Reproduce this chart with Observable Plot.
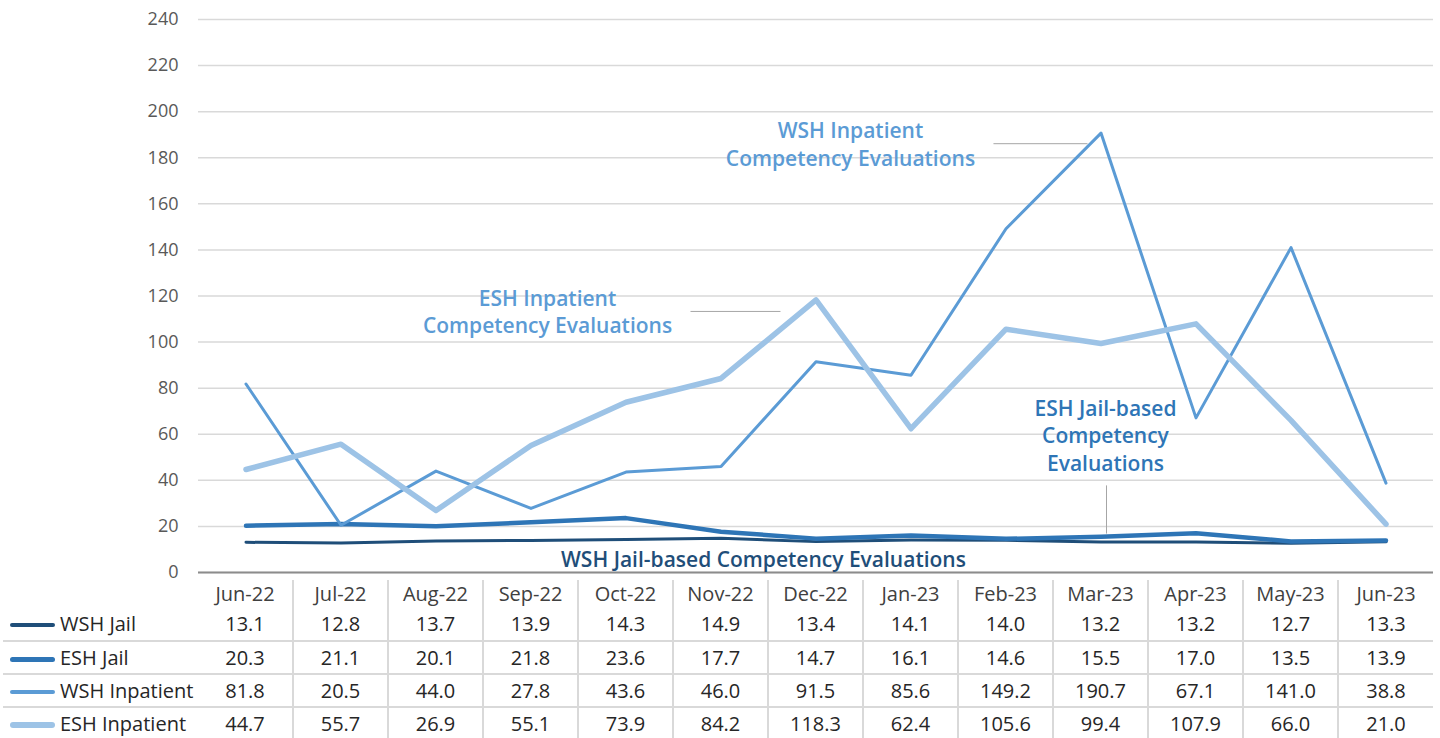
<!DOCTYPE html>
<html><head><meta charset="utf-8">
<script src="https://cdn.jsdelivr.net/npm/d3@7"></script>
<script src="https://cdn.jsdelivr.net/npm/@observablehq/plot@0.6"></script>
<style>
body{margin:0;background:#fff;font-family:"Open Sans",sans-serif;}
#wrap{position:relative;width:1440px;height:738px;overflow:hidden;background:#fff}
#chart{position:absolute;left:0;top:0}
#tbl{position:absolute;left:3px;top:580px;border-collapse:collapse;table-layout:fixed;width:1430px;font-size:20px;color:#262626;font-family:"Open Sans",sans-serif}
#tbl td{padding:0;text-align:center;white-space:nowrap;line-height:1}
#tbl tr.hdr td{height:27px;color:#404040}
#tbl tr.row td{height:33px}
#tbl tr.row + tr.row td{border-top:2px solid #d9d9d9;height:31px}
#tbl td.m + td.m{border-left:2px solid #d9d9d9}
#tbl td.leg{text-align:left}
.key{display:inline-block;width:45px;height:0;vertical-align:middle;margin-left:7px;margin-right:5px;border-radius:3px}
</style></head>
<body>
<div id="wrap"><div id="chart"></div><table id="tbl"></table></div>
<script>
const months = ["Jun-22","Jul-22","Aug-22","Sep-22","Oct-22","Nov-22","Dec-22","Jan-23","Feb-23","Mar-23","Apr-23","May-23","Jun-23"];
const wshJail = [13.1,12.8,13.7,13.9,14.3,14.9,13.4,14.1,14.0,13.2,13.2,12.7,13.3];
const eshJail = [20.3,21.1,20.1,21.8,23.6,17.7,14.7,16.1,14.6,15.5,17.0,13.5,13.9];
const wshInpatient = [81.8,20.5,44.0,27.8,43.6,46.0,91.5,85.6,149.2,190.7,67.1,141.0,38.8];
const eshInpatient = [44.7,55.7,26.9,55.1,73.9,84.2,118.3,62.4,105.6,99.4,107.9,66.0,21.0];
const seriesNames = ["WSH Jail","ESH Jail","WSH Inpatient","ESH Inpatient"];
const yTicks = [0,20,40,60,80,100,120,140,160,180,200,220,240];

// annotation anchors in data space (x = month index, y = value)
const annotations = [
  {text:"WSH Inpatient\nCompetency Evaluations", x:6.363, y:186.3},
  {text:"ESH Inpatient\nCompetency Evaluations", x:3.174, y:113.5},
  {text:"ESH Jail-based\nCompetency\nEvaluations", x:9.047, y:59.8},
  {text:"WSH Jail-based Competency Evaluations", x:5.447, y:6.1}
];
const leaders = [
  {x1:7.868, y1:186.1, x2:8.858, y2:186.1},
  {x1:4.679, y1:113.3, x2:5.626, y2:113.3},
  {x1:9.058, y1:37.8, x2:9.058, y2:16.9}
];

const colors = ["#1F4E79","#2E75B6","#5B9BD5","#9DC3E6"];
const widths = [3,4.5,3,5.5];
const allSeries = [wshJail, eshJail, wshInpatient, eshInpatient];
const toRows = arr => arr.map((v,i)=>({i, v, m: months[i]}));

const annColors = ["#5B9BD5","#5B9BD5","#2E75B6","#1F4E79"];

const chart = Plot.plot({
  width:1440, height:579,
  marginTop:19, marginBottom:7, marginLeft:198, marginRight:7,
  x:{domain:[-0.5,12.5], axis:null},
  y:{domain:[0,240], axis:null},
  style:{fontFamily:"'Open Sans', sans-serif", background:"white", overflow:"visible"},
  marks:[
    Plot.gridY(yTicks,{stroke:"#d9d9d9", strokeOpacity:1, strokeWidth:1.5}),
    Plot.axisY(yTicks,{tickSize:0, tickPadding:20, fontSize:18, fill:"#595959", label:null}),
    Plot.ruleY([0],{stroke:"#8c8c8c", strokeWidth:2}),
    ...allSeries.map((s,k)=>Plot.line(toRows(s),{x:"i", y:"v", stroke:colors[k], strokeWidth:widths[k], strokeLinejoin:"round", strokeLinecap:"round"})),
    Plot.link(leaders,{x1:"x1", y1:"y1", x2:"x2", y2:"y2", stroke:"#a6a6a6", strokeWidth:1}),
    ...annotations.map((a,k)=>Plot.text([a],{x:"x", y:"y", text:"text", fill:annColors[k], fontSize:21, fontWeight:600, lineHeight:1.3, textAnchor:"middle"}))
  ]
});
document.getElementById("chart").appendChild(chart);

// data table
const tbl = document.getElementById("tbl");
let html = '<colgroup><col style="width:195px">' + months.map(()=>'<col style="width:95px">').join('') + '</colgroup>';
html += '<tr class="hdr"><td class="leg"></td>' + months.map(m=>`<td class="m">${m}</td>`).join('') + '</tr>';
allSeries.forEach((s,k)=>{
  html += `<tr class="row"><td class="leg"><span class="key" style="border-top:${k%2? (k==3?6:5):4}px solid ${colors[k]}"></span>${seriesNames[k]}</td>` +
    s.map(v=>`<td class="m">${v.toFixed(1)}</td>`).join('') + '</tr>';
});
tbl.innerHTML = html;
</script>
</body></html>
